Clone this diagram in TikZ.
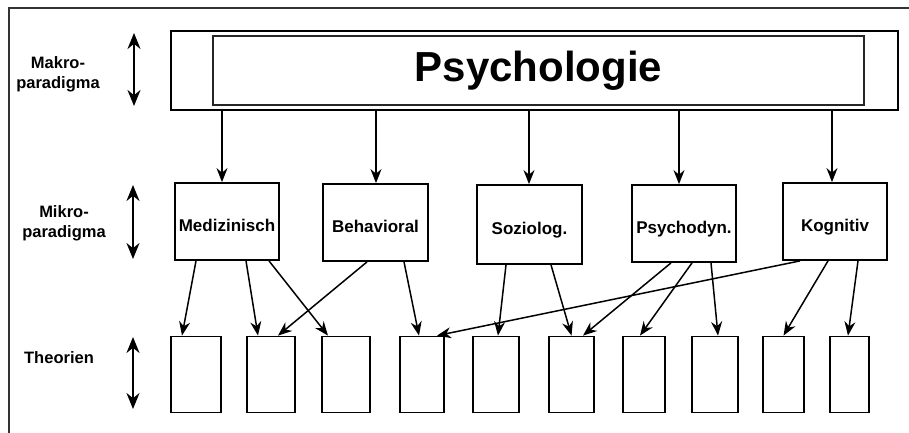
\documentclass[tikz,border=0pt]{standalone}
\usepackage{fontspec}
\setmainfont{Liberation Sans}
\usepackage{tikz}
\usetikzlibrary{arrows.meta,positioning}
\tikzstyle{mikro}  = [draw, line width=1.8pt, minimum width=104pt, minimum height=77pt, font=\bfseries\fontsize{17}{20}\selectfont, text height=20pt, text depth=0pt, inner sep=0pt]
\tikzstyle{theo}   = [draw, line width=1.8pt, minimum height=76pt, inner sep=0pt]
\tikzstyle{ebene}  = [font=\bfseries\fontsize{16.5}{20}\selectfont, align=center, inner sep=0pt]
\tikzstyle{pfeil}  = [line width=1.5pt, -{Stealth[length=14pt,width=11pt]}]
\tikzstyle{doppel} = [line width=2.2pt, {Stealth[length=16pt,width=13pt]}-{Stealth[length=16pt,width=13pt]}]

\begin{document}
\begin{tikzpicture}[x=1pt,y=-1pt]
		\useasboundingbox (0,0) rectangle (909,433);
		\fill[white] (0,0) rectangle (909,433);

		% Rahmen
		\coordinate (ecke) at (9,8);
		\coordinate (rechts) at (909,8);
		\coordinate (unten) at (9,433);
		\draw[line width=1.2pt, black!80] (rechts) -- (ecke) -- (unten);

		% Ebenen links
		\node[ebene] (makro) at (58,74) {Makro-\\paradigma};
		\node[ebene] (mikrolab) at (64,223) {Mikro-\\paradigma};
		\node[ebene] (theolab) at (59,358) {Theorien};
		\coordinate (m1) at (134,33);  \coordinate (m2) at (134,106);
		\coordinate (k1) at (133,185); \coordinate (k2) at (133,259);
		\coordinate (t1a) at (133,337); \coordinate (t1b) at (133,409);
		\draw[doppel] (m1) -- (m2);
		\draw[doppel] (k1) -- (k2);
		\draw[doppel] (t1a) -- (t1b);

		% Makroparadigma
		\node[draw, line width=2.2pt, minimum width=727pt, minimum height=79pt] (psy) at (534.5,70.5) {};
		\node[draw, line width=1.2pt, black!85, minimum width=651pt, minimum height=69pt, text=black,
			font=\bfseries\fontsize{42}{42}\selectfont] (psyin) at (538.5,70.5) {Psychologie};

		% Mikroparadigmen
		\node[mikro] (med) at (227,221.5) {Medizinisch};
		\node[mikro, minimum width=105pt] (beh) at (375.5,222.5) {Behavioral};
		\node[mikro, minimum width=105pt, minimum height=79pt] (soz) at (529.5,224.5) {Soziolog.};
		\node[mikro] (psd) at (684,223.5) {Psychodyn.};
		\node[mikro] (kog) at (835,221.5) {Kognitiv};

		\draw[pfeil] ([xshift=-5pt]med.north |- psy.south) -- ([xshift=-5pt]med.north);
		\draw[pfeil] ([xshift=0.5pt]beh.north |- psy.south) -- ([xshift=0.5pt]beh.north);
		\draw[pfeil] ([xshift=-0.5pt]soz.north |- psy.south) -- ([xshift=-0.5pt]soz.north);
		\draw[pfeil] ([xshift=-5pt]psd.north |- psy.south) -- ([xshift=-5pt]psd.north);
		\draw[pfeil] ([xshift=-3pt]kog.north |- psy.south) -- ([xshift=-3pt]kog.north);

		% Theorien
		\foreach \n/\x/\w in {1/196/50, 2/271/48, 3/346/48, 4/422/44, 5/496/46,
			6/571.5/45, 7/644/42, 8/715/46, 9/783.5/41, 10/849.5/39}
			\node[theo, minimum width=\w pt] (t\n) at (\x,374.5) {};

		\draw[pfeil] ([xshift=-31pt]med.south) -- ([xshift=-14pt]t1.north);
		\draw[pfeil] ([xshift=19pt]med.south) -- ([xshift=-13pt]t2.north);
		\draw[pfeil] ([xshift=42pt]med.south) -- ([xshift=-18pt]t3.north);
		\draw[pfeil] ([xshift=-8.5pt]beh.south) -- ([xshift=7pt]t2.north);
		\draw[pfeil] ([xshift=28.5pt]beh.south) -- ([xshift=-3pt]t4.north);
		\draw[pfeil] ([xshift=-35pt]kog.south) -- ([xshift=15pt]t4.north);
		\draw[pfeil] ([xshift=-23.5pt]soz.south) -- ([xshift=2pt]t5.north);
		\draw[pfeil] ([xshift=21.5pt]soz.south) -- (t6.north);
		\draw[pfeil] ([xshift=-13pt]psd.south) -- ([xshift=11.5pt]t6.north);
		\draw[pfeil] ([xshift=8pt]psd.south) -- ([xshift=-4pt]t7.north);
		\draw[pfeil] ([xshift=27pt]psd.south) -- ([xshift=3pt]t8.north);
		\draw[pfeil] ([xshift=-7pt]kog.south) -- (t9.north);
		\draw[pfeil] ([xshift=23pt]kog.south) -- ([xshift=-1.5pt]t10.north);
	\end{tikzpicture}
\end{document}
